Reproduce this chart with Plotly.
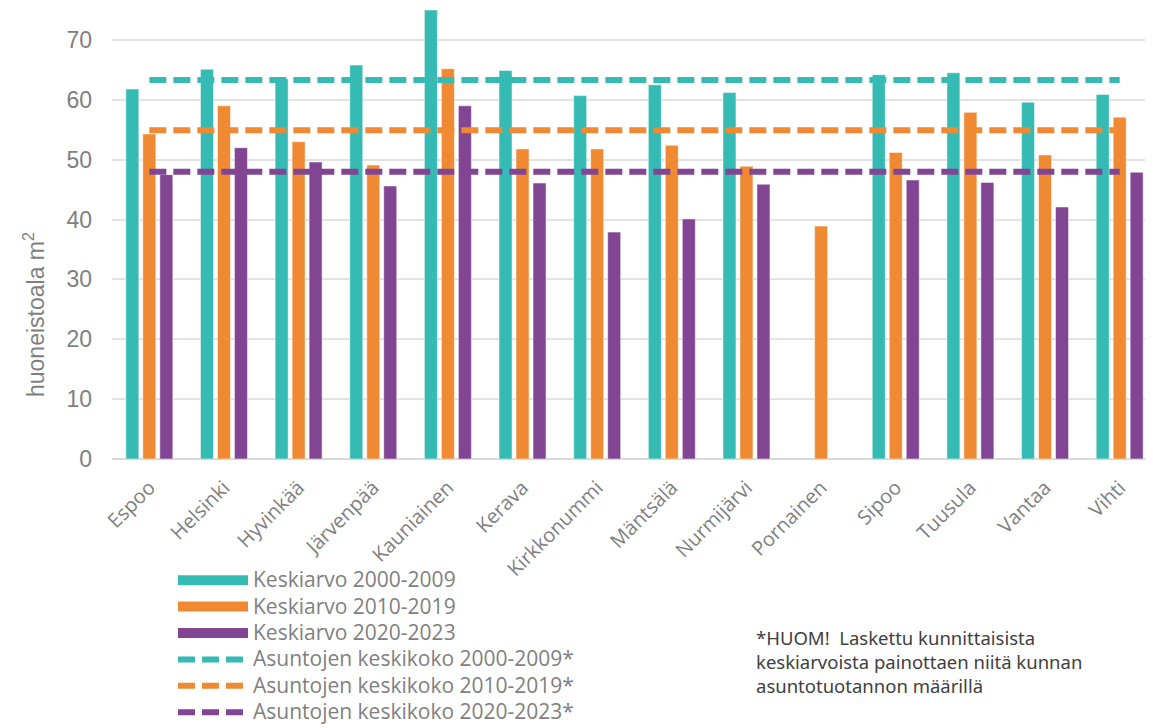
import plotly.graph_objects as go

categories = ["Espoo", "Helsinki", "Hyvinkää", "Järvenpää", "Kauniainen", "Kerava",
              "Kirkkonummi", "Mäntsälä", "Nurmijärvi", "Pornainen", "Sipoo",
              "Tuusula", "Vantaa", "Vihti"]
avg_2000_2009 = [61.8, 65.1, 63.5, 65.8, 75.0, 64.9, 60.7, 62.5, 61.2, None, 64.2, 64.5, 59.6, 60.9]
avg_2010_2019 = [54.3, 59.0, 53.0, 49.1, 65.2, 51.8, 51.8, 52.4, 48.9, 38.9, 51.2, 57.9, 50.8, 57.1]
avg_2020_2023 = [47.5, 52.0, 49.6, 45.6, 59.0, 46.1, 37.9, 40.1, 45.9, None, 46.6, 46.2, 42.1, 47.9]
overall_2000_2009 = 63.3
overall_2010_2019 = 54.9
overall_2020_2023 = 48.0

teal = "#35BBB4"
orange = "#F08A32"
purple = "#824594"
gray = "#7f7f7f"

L, R, T, B = 104, 4, 2, 277
W, H = 1153, 728
PW, PH = W - L - R, H - T - B
BOTTOM = H - B  # figure y of plot bottom


def px(x):
    return (x - L) / PW


def py(y):
    return (BOTTOM - y) / PH


def lg(name):
    return '<span style="font-size:21px">' + name + '</span>'


fig = go.Figure()
bar_series = [("Keskiarvo 2000-2009", avg_2000_2009, teal),
              ("Keskiarvo 2010-2019", avg_2010_2019, orange),
              ("Keskiarvo 2020-2023", avg_2020_2023, purple)]
for name, vals, col in bar_series:
    fig.add_trace(go.Bar(x=categories, y=vals, name=name, marker_color=col, showlegend=False,
                         marker_line=dict(color="white", width=0.5)))
# legend swatches for the bar series (wide bands, like the original)
for name, vals, col in bar_series:
    fig.add_trace(go.Scatter(x=[None], y=[None], name=lg(name), mode="lines",
                             line=dict(color=col, width=15)))

for name, val, col in [("Asuntojen keskikoko 2000-2009*", overall_2000_2009, teal),
                       ("Asuntojen keskikoko 2010-2019*", overall_2010_2019, orange),
                       ("Asuntojen keskikoko 2020-2023*", overall_2020_2023, purple)]:
    fig.add_trace(go.Scatter(x=categories, y=[val] * len(categories), name=lg(name), mode="lines",
                             line=dict(color=col, width=6, dash="17px,7px")))

fig.update_layout(
    width=W, height=H,
    margin=dict(l=L, r=R, t=T, b=B, autoexpand=False),
    plot_bgcolor="white", paper_bgcolor="white",
    barmode="group", bargap=0.317, bargroupgap=0.235,
    showlegend=True,
    legend=dict(x=px(165), y=py(554), xanchor="left", yanchor="top",
                font=dict(family="Open Sans, sans-serif", size=18, color=gray),
                itemwidth=70, tracegroupgap=0, bgcolor="rgba(0,0,0,0)"),
    font=dict(family="Liberation Sans, Arial, sans-serif", color=gray),
)
fig.update_xaxes(tickangle=-45, tickfont=dict(family="Open Sans, sans-serif", size=20, color=gray),
                 showgrid=False, showline=False, ticks="", ticklabelstandoff=12)
fig.update_yaxes(range=[0, 75], tickvals=[0, 10, 20, 30, 40, 50, 60, 70],
                 tickfont=dict(size=23, color=gray), gridcolor="#e3e3e3", gridwidth=1.5,
                 zeroline=True, zerolinecolor="#d9d9d9", zerolinewidth=2, ticks="", ticklen=0,
                 ticklabelstandoff=19)
fig.add_annotation(text="huoneistoala m<sup>2</sup>", xref="paper", yref="paper",
                   x=px(26), y=py(307), textangle=-90, showarrow=False,
                   font=dict(size=23, color=gray), xanchor="center", yanchor="middle")
fig.add_annotation(text="*HUOM!  Laskettu kunnittaisista<br>keskiarvoista painottaen niitä kunnan<br>asuntotuotannon määrillä",
                   xref="paper", yref="paper", x=px(746), y=py(615),
                   xanchor="left", yanchor="top", align="left", showarrow=False,
                   font=dict(family="Noto Sans, sans-serif", size=18.5, color="#404040"))
fig.write_html("out.html")
